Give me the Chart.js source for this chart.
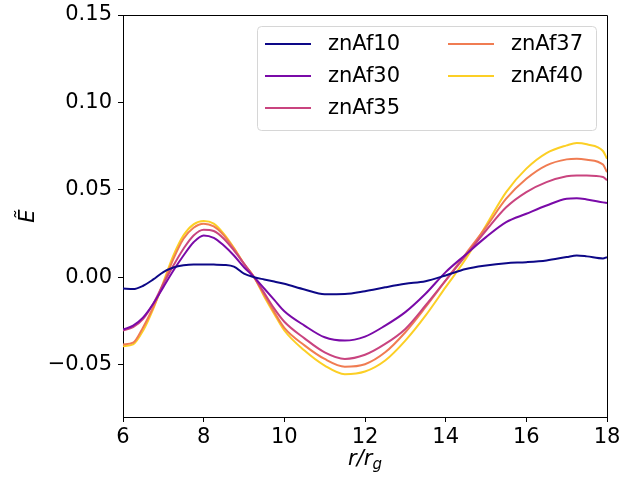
<!DOCTYPE html>
<html>
<head>
<meta charset="utf-8">
<script src="https://cdn.jsdelivr.net/npm/chart.js@4.4.1/dist/chart.umd.min.js"></script>
<style>
  html, body { margin: 0; padding: 0; background: #fff; }
  .container { width: 638px; height: 477px; }
</style>
</head>
<body>
<div class="container"><canvas id="myChart" width="638" height="477"></canvas></div>
<script>
// radius r/r_g
const radius = [6, 6.25, 6.5, 6.75, 7, 7.25, 7.5, 7.75, 8, 8.25, 8.5, 8.75, 9, 9.25, 9.5, 9.75,
  10, 10.5, 11, 11.5, 12, 12.5, 13, 13.5, 14, 14.5, 15, 15.5, 16, 16.5, 17, 17.25, 17.5, 17.9, 18];

const znAf10 = [-0.0065, -0.0068, -0.0049, -0.0013, 0.0029, 0.0055, 0.0068, 0.0073, 0.0073, 0.0072, 0.0070, 0.0060, 0.0020, 0.0000, -0.0013, -0.0025,
  -0.0038, -0.0070, -0.0097, -0.0096, -0.0080, -0.0058, -0.0038, -0.0023, 0.0010, 0.0047, 0.0067, 0.0080, 0.0086, 0.0096, 0.0115, 0.0124, 0.0119, 0.0107, 0.0115];
const znAf30 = [-0.0300, -0.0277, -0.0230, -0.0152, -0.0057, 0.0038, 0.0124, 0.0200, 0.0239, 0.0225, 0.0181, 0.0124, 0.0057, 0.0000, -0.0065, -0.0130,
  -0.0195, -0.0277, -0.0344, -0.0363, -0.0340, -0.0277, -0.0200, -0.0095, 0.0029, 0.0130, 0.0229, 0.0315, 0.0363, 0.0410, 0.0449, 0.0452, 0.0445, 0.0428, 0.0424];
const znAf35 = [-0.0305, -0.0286, -0.0238, -0.0152, -0.0038, 0.0067, 0.0163, 0.0239, 0.0272, 0.0264, 0.0220, 0.0153, 0.0077, 0.0000, -0.0090, -0.0180,
  -0.0255, -0.0350, -0.0430, -0.0468, -0.0444, -0.0382, -0.0296, -0.0162, -0.0019, 0.0124, 0.0267, 0.0400, 0.0487, 0.0544, 0.0578, 0.0582, 0.0582, 0.0573, 0.0554];
const znAf37 = [-0.0385, -0.0375, -0.0286, -0.0172, -0.0038, 0.0105, 0.0220, 0.0283, 0.0306, 0.0290, 0.0239, 0.0163, 0.0077, 0.0000, -0.0100, -0.0200,
  -0.0290, -0.0390, -0.0468, -0.0512, -0.0498, -0.0430, -0.0315, -0.0172, -0.0019, 0.0134, 0.0286, 0.0449, 0.0563, 0.0640, 0.0674, 0.0678, 0.0672, 0.0644, 0.0601];
const znAf40 = [-0.0395, -0.0385, -0.0305, -0.0181, -0.0029, 0.0124, 0.0239, 0.0302, 0.0321, 0.0306, 0.0248, 0.0168, 0.0077, 0.0000, -0.0110, -0.0210,
  -0.0305, -0.0420, -0.0506, -0.0555, -0.0540, -0.0477, -0.0363, -0.0220, -0.0057, 0.0105, 0.0296, 0.0487, 0.0621, 0.0710, 0.0754, 0.0768, 0.0760, 0.0722, 0.0678];

const seriesNames = ["znAf10", "znAf30", "znAf35", "znAf37", "znAf40"];
const seriesValues = [znAf10, znAf30, znAf35, znAf37, znAf40];
const seriesColors = ["#0d0887", "#7a0aa8", "#c9447f", "#f07c52", "#fccf25"];

const xTicks = [6, 8, 10, 12, 14, 16, 18];
const yTicks = [-0.05, 0.00, 0.05, 0.10, 0.15];

const FONT = "'DejaVu Sans', sans-serif";

// top and right spines, like a matplotlib axes box
const frame = {
  id: "frame",
  afterDatasetsDraw(chart) {
    const { ctx, chartArea: a } = chart;
    ctx.save();
    ctx.strokeStyle = "#000";
    ctx.lineWidth = 1;
    ctx.beginPath();
    ctx.moveTo(a.left, a.top + 0.5);
    ctx.lineTo(a.right + 0.5, a.top + 0.5);
    ctx.lineTo(a.right + 0.5, a.bottom);
    ctx.stroke();
    ctx.restore();
  },
};

// two-column legend, filled column by column
const legendBox = {
  id: "legendBox",
  afterDraw(chart) {
    const ctx = chart.ctx;
    ctx.save();
    ctx.fillStyle = "rgba(255,255,255,0.8)";
    ctx.strokeStyle = "#d6d6d6";
    ctx.lineWidth = 1;
    ctx.beginPath();
    ctx.roundRect(257.5, 26.5, 339, 104, 4);
    ctx.fill();
    ctx.stroke();
    ctx.font = "21px " + FONT;
    ctx.textBaseline = "middle";
    chart.data.datasets.forEach((ds, i) => {
      const col = i < 3 ? 0 : 1;
      const row = i < 3 ? i : i - 3;
      const x0 = col === 0 ? 265 : 448;
      const y = 44 + row * 32;
      ctx.strokeStyle = ds.borderColor;
      ctx.lineWidth = 2;
      ctx.beginPath();
      ctx.moveTo(x0, y);
      ctx.lineTo(x0 + 46, y);
      ctx.stroke();
      ctx.fillStyle = "#000";
      ctx.fillText(ds.label, x0 + 63, y + 1);
    });
    ctx.restore();
  },
};

// axis titles: italic E-tilde and r/r_g with subscript
const axisTitles = {
  id: "axisTitles",
  afterDraw(chart) {
    const { ctx, chartArea: a } = chart;
    ctx.save();
    ctx.fillStyle = "#000";
    ctx.textBaseline = "alphabetic";
    // x title
    const main = "r/r";
    ctx.font = "italic 21px " + FONT;
    const w1 = ctx.measureText(main).width;
    ctx.font = "italic 15px " + FONT;
    const w2 = ctx.measureText("g").width;
    const cx = (a.left + a.right) / 2;
    const x0 = cx - (w1 + w2) / 2;
    ctx.font = "italic 21px " + FONT;
    ctx.textAlign = "left";
    ctx.fillText(main, x0, 465);
    ctx.font = "italic 15px " + FONT;
    ctx.fillText("g", x0 + w1, 469);
    // y title
    ctx.translate(34, (a.top + a.bottom) / 2);
    ctx.rotate(-Math.PI / 2);
    ctx.font = "italic 21px " + FONT;
    ctx.textAlign = "center";
    ctx.fillText("\u1EBC", 0, 0);
    ctx.restore();
  },
};

new Chart(document.getElementById("myChart"), {
  type: "line",
  data: {
    datasets: seriesNames.map((name, i) => ({
      label: name,
      data: radius.map((r, j) => ({ x: r, y: seriesValues[i][j] })),
      borderColor: seriesColors[i],
      backgroundColor: seriesColors[i],
      borderWidth: 2,
      pointRadius: 0,
      fill: false,
      cubicInterpolationMode: "monotone",
    })),
  },
  options: {
    responsive: false,
    animation: false,
    layout: { padding: { top: 15, right: 31, left: 0, bottom: 0 } },
    plugins: {
      legend: { display: false },
      tooltip: { enabled: false },
    },
    scales: {
      x: {
        type: "linear",
        min: 6,
        max: 18,
        afterBuildTicks: (scale) => { scale.ticks = xTicks.map((v) => ({ value: v })); },
        afterFit: (scale) => {
          scale.height = 60;
          scale.paddingLeft = 0;
          scale.paddingRight = 0;
        },
        grid: { drawOnChartArea: false, drawTicks: true, tickLength: 5, color: "#000" },
        border: { display: true, color: "#000", width: 1 },
        ticks: {
          color: "#000",
          font: { family: FONT, size: 21 },
          padding: 3,
          maxRotation: 0,
          callback: (v) => String(v),
        },
      },
      y: {
        type: "linear",
        min: -0.08,
        max: 0.15,
        afterBuildTicks: (scale) => { scale.ticks = yTicks.map((v) => ({ value: v })); },
        afterFit: (scale) => {
          scale.width = 123;
          scale.paddingTop = 0;
          scale.paddingBottom = 0;
        },
        grid: { drawOnChartArea: false, drawTicks: true, tickLength: 5, color: "#000" },
        border: { display: true, color: "#000", width: 1 },
        ticks: {
          color: "#000",
          font: { family: FONT, size: 21 },
          padding: 6,
          callback: (v) => v.toFixed(2).replace("-", "\u2212"),
        },
      },
    },
  },
  plugins: [frame, legendBox, axisTitles],
});
</script>
</body>
</html>
